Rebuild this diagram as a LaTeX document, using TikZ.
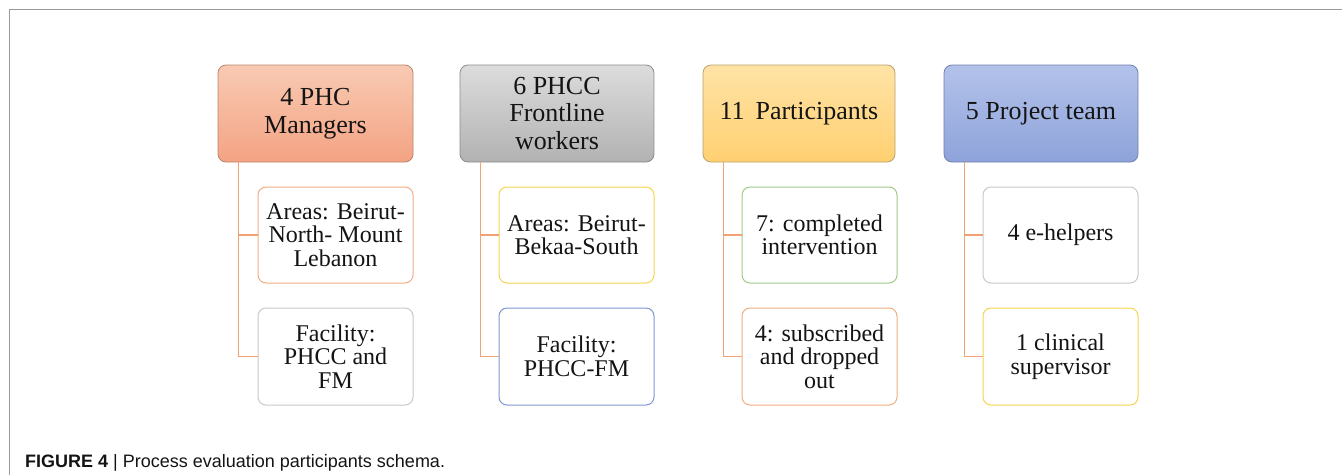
\documentclass[tikz,border=0pt]{standalone}
\usepackage{fontspec}
\setmainfont{Liberation Serif}
\newfontfamily\capfont{Liberation Sans}
\usetikzlibrary{calc}
\definecolor{hOtop}{HTML}{F8CAB3}\definecolor{hObot}{HTML}{F4A383}\definecolor{hOdraw}{HTML}{B98468}
\definecolor{hGtop}{HTML}{DCDCDC}\definecolor{hGbot}{HTML}{B2B2B2}\definecolor{hGdraw}{HTML}{8C8C8C}
\definecolor{hYtop}{HTML}{FFE3A6}\definecolor{hYbot}{HTML}{FFD071}\definecolor{hYdraw}{HTML}{B9A06C}
\definecolor{hBtop}{HTML}{B3C2EA}\definecolor{hBbot}{HTML}{8EA3DA}\definecolor{hBdraw}{HTML}{6F7FAE}
\definecolor{cOrange}{HTML}{F2AE80}
\definecolor{cGray}{HTML}{C8C8C8}
\definecolor{cYellow}{HTML}{F7D44C}
\definecolor{cBlue}{HTML}{7C98D4}
\definecolor{cGreen}{HTML}{9FCB87}
\definecolor{conn}{HTML}{F2A272}
\definecolor{txt}{HTML}{141414}
\definecolor{frame}{HTML}{9A9A9A}
\tikzset{
  head/.style={draw, line width=0.8pt, rounded corners=8pt, minimum width=194pt, minimum height=97pt,
    align=center, inner sep=2pt, text=txt, font=\fontsize{26}{27.5}\selectfont},
  child/.style={draw, line width=1pt, fill=white, rounded corners=8pt, minimum width=155pt, minimum height=96pt,
    align=center, inner sep=2pt, text=txt, font=\fontsize{24}{23.5}\selectfont},
  link/.style={draw=conn, line width=1.3pt},
}
\begin{document}
\begin{tikzpicture}[x=1pt,y=-1pt]
\useasboundingbox (0,0) rectangle (1342,475);
\draw[frame, line width=1pt] (9,475) -- (9,9) -- (1342,9);

% headers
\node[head, top color=hOtop, bottom color=hObot, draw=hOdraw, minimum width=195pt] (h1) at (315.5,113.5) {4 PHC\\Managers};
\node[head, top color=hGtop, bottom color=hGbot, draw=hGdraw] (h2) at (557,113.5) {6 PHCC\\Frontline\\workers};
\node[head, top color=hYtop, bottom color=hYbot, draw=hYdraw, minimum width=192pt] (h3) at (799,113.5) {11\, Participants};
\node[head, top color=hBtop, bottom color=hBbot, draw=hBdraw] (h4) at (1041,113.5) {5 Project team};

% children
\node[child, draw=cOrange] (a1) at (335.5,235) {Areas: Beirut-\\North- Mount\\Lebanon};
\node[child, draw=cGray, minimum height=97pt] (a2) at (335.5,356.5) {Facility:\\PHCC and\\FM};
\node[child, draw=cYellow] (b1) at (576.5,235) {Areas: Beirut-\\Bekaa-South};
\node[child, draw=cBlue, minimum height=97pt] (b2) at (576.5,356.5) {Facility:\\PHCC-FM};
\node[child, draw=cGreen] (c1) at (819.5,235) {7: completed\\intervention};
\node[child, draw=cOrange, minimum height=97pt] (c2) at (819.5,356.5) {4: subscribed\\and dropped\\out};
\node[child, draw=cGray] (d1) at (1060.5,235) {4 e-helpers};
\node[child, draw=cYellow, minimum height=97pt] (d2) at (1060.5,356.5) {1 clinical\\supervisor};

% connectors
\foreach \h/\p/\q in {h1/a1/a2, h2/b1/b2, h3/c1/c2, h4/d1/d2}{
  \coordinate (\h t) at ($(\h.south west)+(21,0)$);
  \draw[link] (\h t) |- (\p.west);
  \draw[link] (\h t) |- (\q.west);
}

% caption
\node[anchor=base west, inner sep=0pt, text=txt, font=\capfont\fontsize{18}{20}\selectfont] (cap) at (25,467)
  {\textbf{FIGURE 4} | Process evaluation participants schema.};
\end{tikzpicture}
\end{document}
